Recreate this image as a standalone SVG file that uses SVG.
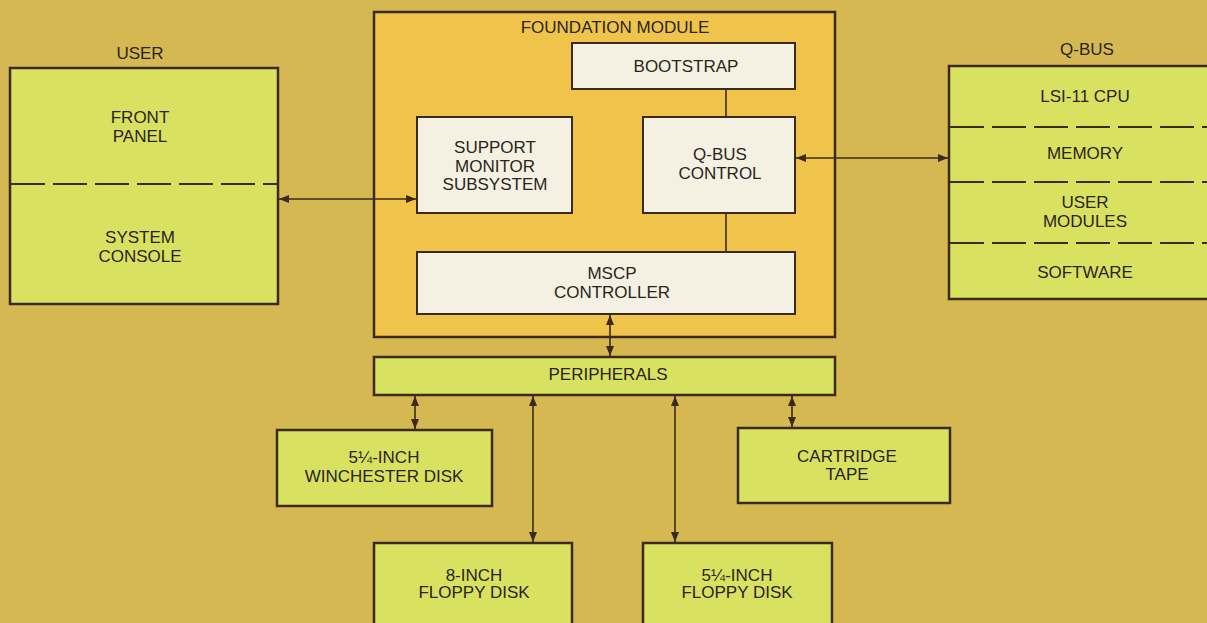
<svg xmlns="http://www.w3.org/2000/svg" width="1207" height="623" viewBox="0 0 1207 623">
<defs>
<marker id="ah" viewBox="0 0 10 8" refX="10" refY="4" markerWidth="10" markerHeight="8" markerUnits="userSpaceOnUse" orient="auto-start-reverse">
<path d="M0,0 L10,4 L0,8 z" fill="#3a2a20"/>
</marker>
<style>
.bg{fill:#d6b852}
.grn{fill:#d8e160;stroke:#3a2a20;stroke-width:2.5}
.fnd{fill:#f0c44a;stroke:#3a2a20;stroke-width:2.5}
.wht{fill:#f4f1e2;stroke:#3a2a20;stroke-width:2}
.dash{stroke:#3a2a20;stroke-width:2;stroke-dasharray:34 8;fill:none}
.ln{stroke:#3a2a20;stroke-width:1.6;fill:none}
.arr{stroke:#3a2a20;stroke-width:1.6;fill:none;marker-start:url(#ah);marker-end:url(#ah)}
text{font-family:"Liberation Sans",Arial,sans-serif;font-size:17px;fill:#2a2420;text-anchor:middle}
</style>
</defs>
<rect class="bg" x="0" y="0" width="1207" height="623"/>

<g id="user">
<text x="140" y="59">USER</text>
<rect class="grn" x="10" y="68" width="268" height="236"/>
<line class="dash" x1="11" y1="184" x2="277" y2="184"/>
<text x="140" y="123">FRONT</text>
<text x="140" y="142">PANEL</text>
<text x="140" y="243">SYSTEM</text>
<text x="140" y="262">CONSOLE</text>
</g>

<g id="foundation">
<rect class="fnd" x="374" y="12" width="461" height="325"/>
<text x="615" y="33">FOUNDATION MODULE</text>
</g>

<g id="bootstrap">
<rect class="wht" x="572" y="43" width="223" height="46"/>
<text x="686" y="72">BOOTSTRAP</text>
</g>

<g id="support">
<rect class="wht" x="417" y="117" width="155" height="96"/>
<text x="495" y="153">SUPPORT</text>
<text x="495" y="172">MONITOR</text>
<text x="495" y="190">SUBSYSTEM</text>
</g>

<g id="qbuscontrol">
<rect class="wht" x="643" y="117" width="152" height="96"/>
<text x="720" y="160">Q-BUS</text>
<text x="720" y="179">CONTROL</text>
</g>

<g id="mscp">
<rect class="wht" x="417" y="252" width="378" height="62"/>
<text x="612" y="279">MSCP</text>
<text x="612" y="298">CONTROLLER</text>
</g>

<g id="qbus">
<text x="1087" y="55">Q-BUS</text>
<rect class="grn" x="949" y="66" width="270" height="233"/>
<line class="dash" x1="950" y1="127" x2="1207" y2="127"/>
<line class="dash" x1="950" y1="182" x2="1207" y2="182"/>
<line class="dash" x1="950" y1="243" x2="1207" y2="243"/>
<text x="1085" y="102">LSI-11 CPU</text>
<text x="1085" y="159">MEMORY</text>
<text x="1085" y="208">USER</text>
<text x="1085" y="227">MODULES</text>
<text x="1085" y="278">SOFTWARE</text>
</g>

<g id="peripherals">
<rect class="grn" x="374" y="357" width="461" height="38"/>
<text x="608" y="380">PERIPHERALS</text>
</g>

<g id="winchester">
<rect class="grn" x="277" y="430" width="215" height="76"/>
<text x="384" y="463">5¼-INCH</text>
<text x="384" y="482">WINCHESTER DISK</text>
</g>

<g id="cartridge">
<rect class="grn" x="738" y="428" width="212" height="75"/>
<text x="847" y="462">CARTRIDGE</text>
<text x="847" y="480">TAPE</text>
</g>

<g id="floppy8">
<rect class="grn" x="374" y="543" width="198" height="90"/>
<text x="474" y="581">8-INCH</text>
<text x="474" y="598">FLOPPY DISK</text>
</g>

<g id="floppy5">
<rect class="grn" x="643" y="543" width="189" height="90"/>
<text x="737" y="581">5¼-INCH</text>
<text x="737" y="598">FLOPPY DISK</text>
</g>

<g id="connectors">
<line class="arr" x1="279" y1="199" x2="416" y2="199"/>
<line class="arr" x1="796" y1="158" x2="948" y2="158"/>
<line class="ln" x1="726" y1="89" x2="726" y2="117"/>
<line class="ln" x1="726" y1="213" x2="726" y2="252"/>
<line class="arr" x1="610" y1="315" x2="610" y2="356"/>
<line class="arr" x1="415" y1="396" x2="415" y2="429"/>
<line class="arr" x1="533" y1="396" x2="533" y2="542"/>
<line class="arr" x1="675" y1="396" x2="675" y2="542"/>
<line class="arr" x1="792" y1="396" x2="792" y2="427"/>
</g>
</svg>
